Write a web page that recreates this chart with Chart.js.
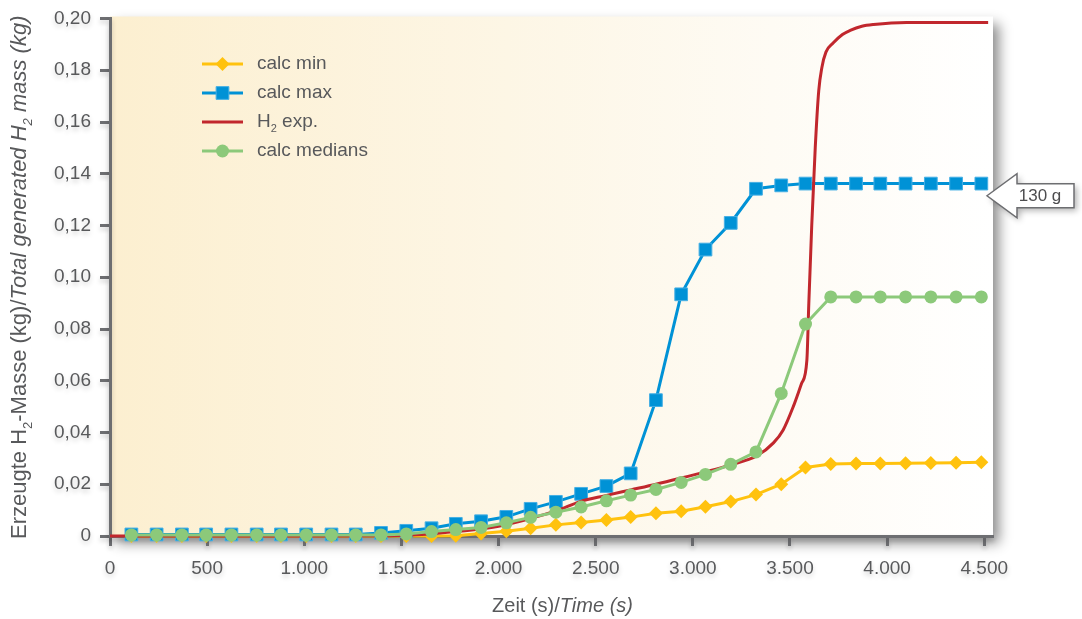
<!DOCTYPE html>
<html>
<head>
<meta charset="utf-8">
<script src="https://cdn.jsdelivr.net/npm/chart.js@4.4.1/dist/chart.umd.min.js"></script>
<style>
  html, body { margin: 0; padding: 0; background: #fff; }
</style>
</head>
<body>
<canvas id="myChart" width="1082" height="619"></canvas>
<script>
// simulation time steps (s) and results (kg)
const calcTimes = [110, 240, 370, 495, 625, 755, 880, 1010, 1140, 1265, 1395, 1525, 1655, 1780, 1910, 2040, 2165, 2295,
    2425, 2555, 2680, 2810, 2940, 3065, 3195, 3325, 3455, 3580, 3710, 3840, 3965, 4095, 4225, 4355, 4485];
const calcMin = [0, 0, 0, 0, 0, 0, 0, 0, 0, 0, 0, 0, 0, 0.0001, 0.001, 0.0018, 0.003, 0.0043, 0.0052, 0.0062, 0.0073,
    0.0088, 0.0096, 0.0113, 0.0133, 0.016, 0.02, 0.0265, 0.0278, 0.028, 0.028, 0.0281, 0.0282, 0.0283, 0.0285];
const calcMax = [0.0006, 0.0006, 0.0006, 0.0006, 0.0006, 0.0006, 0.0006, 0.0006, 0.0006, 0.0006, 0.0012, 0.002, 0.003,
    0.0047, 0.0057, 0.0074, 0.0105, 0.0132, 0.0163, 0.0193, 0.0242, 0.0525, 0.0934, 0.1107, 0.121, 0.1342, 0.1355,
    0.1362, 0.1362, 0.1362, 0.1362, 0.1362, 0.1362, 0.1362, 0.1362];
const calcMedians = [0.0004, 0.0004, 0.0004, 0.0004, 0.0004, 0.0004, 0.0004, 0.0004, 0.0004, 0.0004, 0.0004, 0.0008,
    0.0017, 0.0025, 0.0033, 0.0051, 0.0072, 0.0092, 0.0112, 0.0136, 0.0158, 0.018, 0.0207, 0.0238, 0.0277, 0.0325,
    0.0551, 0.0819, 0.0924, 0.0924, 0.0924, 0.0924, 0.0924, 0.0924, 0.0924];

// experiment curve
const expTimes = [0, 1000, 1400, 1550, 1700, 1850, 2000, 2150, 2300, 2420, 2550, 2680, 2810, 2935, 3065, 3190, 3330,
    3415, 3465, 3517, 3560, 3587, 3597, 3612, 3630, 3648, 3664, 3685, 3722, 3770, 3810, 3870, 3930, 4100, 4520];
const expMass = [0, 0, 0.0001, 0.0004, 0.0012, 0.0022, 0.0038, 0.0065, 0.0098, 0.0133, 0.0156, 0.0178, 0.02, 0.0223,
    0.0248, 0.0274, 0.031, 0.036, 0.041, 0.05, 0.059, 0.068, 0.09, 0.12, 0.15, 0.172, 0.181, 0.187, 0.1905, 0.1938,
    0.1954, 0.197, 0.1977, 0.1985, 0.1985];

const xTicks = [0, 500, 1000, 1500, 2000, 2500, 3000, 3500, 4000, 4500];
const yTicks = [0, 0.02, 0.04, 0.06, 0.08, 0.10, 0.12, 0.14, 0.16, 0.18, 0.20];

const FONT = "'Liberation Sans', Arial, Helvetica, sans-serif";
const TEXT = '#58595b';
const AXIS = '#6d6e71';

const pts = (xs, ys) => xs.map((x, i) => ({ x: x, y: ys[i] }));
const fmtX = v => v >= 1000 ? Math.floor(v / 1000) + '.' + String(v % 1000).padStart(3, '0') : String(v);
const fmtY = v => v === 0 ? '0' : v.toFixed(2).replace('.', ',');

// text with italic parts and subscripts: [text, 'n' | 'i' | 's' | 'si']
function drawRich(ctx, parts, x, y, size, align) {
    const fontFor = s => (s === 'i' || s === 'si' ? 'italic ' : '') + (s[0] === 's' ? Math.round(size * 0.6) : size) + 'px ' + FONT;
    let total = 0;
    parts.forEach(([t, s]) => { ctx.font = fontFor(s); total += ctx.measureText(t).width; });
    let cx = align === 'center' ? x - total / 2 : x;
    ctx.textAlign = 'left';
    ctx.textBaseline = 'middle';
    parts.forEach(([t, s]) => {
        ctx.font = fontFor(s);
        ctx.fillText(t, cx, s[0] === 's' ? y + size * 0.38 : y);
        cx += ctx.measureText(t).width;
    });
}

const decorations = {
    id: 'decorations',
    beforeDraw(chart) {
        const { ctx, chartArea: a } = chart;
        ctx.save();
        ctx.shadowColor = 'rgba(0,0,0,0.45)';
        ctx.shadowBlur = 12;
        ctx.shadowOffsetX = 6;
        ctx.shadowOffsetY = 7;
        const g = ctx.createLinearGradient(a.left, 0, a.right, 0);
        g.addColorStop(0, '#fcefd0');
        g.addColorStop(0.45, '#fdf6e5');
        g.addColorStop(0.75, '#fefbf4');
        g.addColorStop(1, '#ffffff');
        ctx.fillStyle = g;
        ctx.fillRect(a.left, a.top - 2, a.right - a.left, a.bottom - a.top + 2);
        ctx.restore();
        // soft shadow under axes and tick labels
        ctx.shadowColor = 'rgba(0,0,0,0.2)';
        ctx.shadowBlur = 5;
        ctx.shadowOffsetX = 0;
        ctx.shadowOffsetY = 3;
    },
    beforeDatasetsDraw(chart) {
        const ctx = chart.ctx;
        ctx.shadowColor = 'rgba(0,0,0,0)';
        ctx.shadowBlur = 0;
        ctx.shadowOffsetX = 0;
        ctx.shadowOffsetY = 0;
    },
    afterDraw(chart) {
        const { ctx, chartArea: a, scales: { y } } = chart;
        ctx.save();
        ctx.fillStyle = TEXT;

        // axis titles
        drawRich(ctx, [['Zeit (s)/', 'n'], ['Time (s)', 'i']], (a.left + a.right) / 2 + 11, 606, 20, 'center');
        ctx.save();
        ctx.translate(20, (a.top + a.bottom) / 2);
        ctx.rotate(-Math.PI / 2);
        drawRich(ctx, [['Erzeugte H', 'n'], ['2', 's'], ['-Masse (kg)/', 'n'], ['Total generated H', 'i'], ['2', 'si'],
            [' mass (kg)', 'i']], 0, 0, 22, 'center');
        ctx.restore();

        // legend
        chart.data.datasets.forEach((ds, i) => {
            const ly = 64 + i * 29;
            ctx.strokeStyle = ds.borderColor;
            ctx.lineWidth = 3;
            ctx.beginPath();
            ctx.moveTo(202, ly);
            ctx.lineTo(243, ly);
            ctx.stroke();
            if (ds.pointRadius > 0) {
                ctx.fillStyle = ds.pointBackgroundColor;
                ctx.strokeStyle = ds.pointBorderColor;
                ctx.lineWidth = ds.pointBorderWidth;
                Chart.helpers.drawPoint(ctx, {
                    pointStyle: ds.pointStyle, rotation: 0, radius: ds.pointRadius, borderWidth: ds.pointBorderWidth
                }, 222.5, ly);
            }
            ctx.fillStyle = TEXT;
            const bits = ds.label.split('₂');
            const parts = [];
            bits.forEach((b, k) => { if (k > 0) parts.push(['2', 's']); parts.push([b, 'n']); });
            drawRich(ctx, parts, 257, ly, 19, 'left');
        });

        // "130 g" arrow marker
        const tx = a.right - 6, ty = y.getPixelForValue(0.1315);
        ctx.shadowColor = 'rgba(0,0,0,0.3)';
        ctx.shadowBlur = 6;
        ctx.shadowOffsetX = 3;
        ctx.shadowOffsetY = 3;
        ctx.beginPath();
        ctx.moveTo(tx, ty);
        ctx.lineTo(tx + 30, ty - 22);
        ctx.lineTo(tx + 30, ty - 12);
        ctx.lineTo(tx + 87, ty - 12);
        ctx.lineTo(tx + 87, ty + 12);
        ctx.lineTo(tx + 30, ty + 12);
        ctx.lineTo(tx + 30, ty + 22);
        ctx.closePath();
        ctx.fillStyle = '#ffffff';
        ctx.fill();
        ctx.shadowColor = 'rgba(0,0,0,0)';
        ctx.strokeStyle = AXIS;
        ctx.lineWidth = 1.5;
        ctx.stroke();
        ctx.fillStyle = '#4d4d4f';
        ctx.font = '17px ' + FONT;
        ctx.textAlign = 'center';
        ctx.textBaseline = 'middle';
        ctx.fillText('130 g', tx + 53, ty + 1);
        ctx.restore();
    }
};

new Chart(document.getElementById('myChart'), {
    type: 'line',
    data: {
        datasets: [
            {
                label: 'calc min',
                data: pts(calcTimes, calcMin),
                borderColor: '#ffc20e',
                borderWidth: 3,
                pointStyle: 'rectRot',
                pointRadius: 7,
                pointBackgroundColor: '#ffc20e',
                pointBorderColor: '#ffc20e',
                pointBorderWidth: 0,
                tension: 0,
                clip: false,
                order: 3
            },
            {
                label: 'calc max',
                data: pts(calcTimes, calcMax),
                borderColor: '#0092d6',
                borderWidth: 3,
                pointStyle: 'rect',
                pointRadius: 9,
                pointBackgroundColor: '#0092d6',
                pointBorderColor: '#45afe4',
                pointBorderWidth: 1,
                tension: 0,
                clip: false,
                order: 2
            },
            {
                label: 'H₂ exp.',
                data: pts(expTimes, expMass),
                borderColor: '#c1272d',
                borderWidth: 3,
                pointRadius: 0,
                cubicInterpolationMode: 'monotone',
                clip: false,
                order: 1
            },
            {
                label: 'calc medians',
                data: pts(calcTimes, calcMedians),
                borderColor: '#8cc97a',
                borderWidth: 3,
                pointStyle: 'circle',
                pointRadius: 6.5,
                pointBackgroundColor: '#8cc97a',
                pointBorderColor: '#8cc97a',
                pointBorderWidth: 0,
                tension: 0,
                clip: false,
                order: 0
            }
        ]
    },
    options: {
        responsive: false,
        devicePixelRatio: 1,
        animation: false,
        layout: { padding: { top: 16, right: 89, left: 0, bottom: 0 } },
        plugins: {
            legend: { display: false },
            tooltip: { enabled: false }
        },
        scales: {
            x: {
                type: 'linear',
                min: 0,
                max: 4545,
                afterBuildTicks: axis => { axis.ticks = xTicks.map(v => ({ value: v })); },
                afterFit: scale => { scale.height = 83; },
                grid: { drawOnChartArea: false, color: AXIS, tickLength: 10, tickWidth: 3 },
                border: { color: AXIS, width: 3 },
                ticks: {
                    color: TEXT,
                    padding: 11,
                    maxRotation: 0,
                    font: { family: FONT, size: 19 },
                    callback: v => fmtX(v)
                }
            },
            y: {
                min: 0,
                max: 0.2,
                afterBuildTicks: axis => { axis.ticks = yTicks.map(v => ({ value: v })); },
                afterFit: scale => { scale.width = 110; },
                grid: { drawOnChartArea: false, color: AXIS, tickLength: 10, tickWidth: 3 },
                border: { color: AXIS, width: 3 },
                ticks: {
                    color: TEXT,
                    padding: 9,
                    font: { family: FONT, size: 19, lineHeight: 1 },
                    callback: v => fmtY(v)
                }
            }
        }
    },
    plugins: [decorations]
});
</script>
</body>
</html>
